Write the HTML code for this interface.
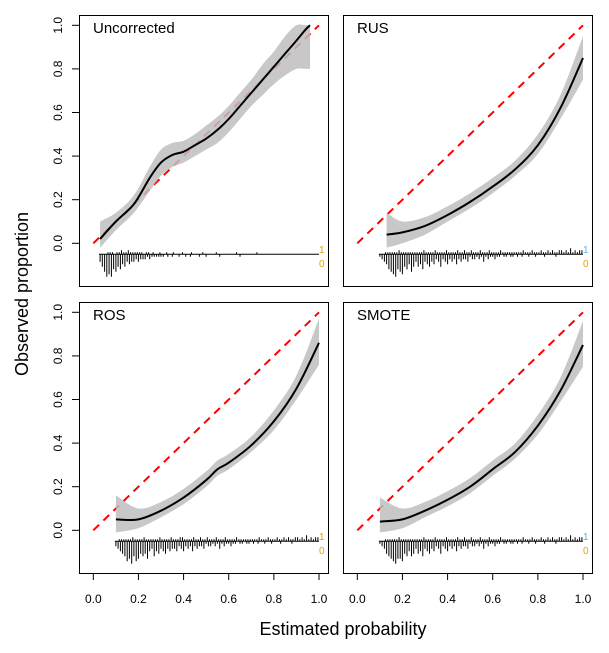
<!DOCTYPE html>
<html><head><meta charset="utf-8"><style>
body{margin:0;background:#fff}
svg{display:block;font-family:"Liberation Sans",Arial,sans-serif}
</style></head><body>
<svg id="c" width="609" height="653" viewBox="0 0 609 653"></svg>
<script>
const panelNames=["Uncorrected","RUS","ROS","SMOTE"];
const xTicks=[0,0.2,0.4,0.6,0.8,1.0];
const xTickLabels=["0.0","0.2","0.4","0.6","0.8","1.0"];
const yTicks=[0,0.2,0.4,0.6,0.8,1.0];
const yTickLabels=["0.0","0.2","0.4","0.6","0.8","1.0"];
// curves: x, fit, lower, upper
const curveX1=[0.03,0.1,0.18,0.25,0.3,0.35,0.4,0.45,0.5,0.55,0.6,0.65,0.7,0.75,0.8,0.85,0.9,0.94,0.96];
const fit1=[0.02,0.1,0.18,0.3,0.37,0.405,0.42,0.45,0.48,0.52,0.57,0.63,0.69,0.75,0.81,0.87,0.93,0.98,1.0];
const lo1=[-0.02,0.06,0.14,0.24,0.31,0.35,0.37,0.4,0.43,0.46,0.51,0.57,0.63,0.68,0.73,0.77,0.8,0.8,0.8];
const hi1=[0.1,0.14,0.22,0.35,0.43,0.46,0.47,0.5,0.54,0.58,0.63,0.69,0.75,0.82,0.88,0.95,1.0,1.0,1.0];
const curveX2=[0.13,0.2,0.3,0.4,0.5,0.6,0.7,0.8,0.9,1.0];
const fit2=[0.04,0.05,0.08,0.13,0.19,0.26,0.34,0.45,0.62,0.85];
const lo2=[-0.02,0.0,0.04,0.1,0.16,0.23,0.31,0.41,0.57,0.75];
const hi2=[0.14,0.1,0.12,0.17,0.23,0.3,0.38,0.5,0.68,0.95];
const curveX3=[0.1,0.2,0.3,0.4,0.5,0.55,0.6,0.7,0.8,0.9,1.0];
const fit3=[0.05,0.05,0.09,0.15,0.23,0.28,0.31,0.39,0.5,0.65,0.86];
const lo3=[-0.01,0.01,0.06,0.12,0.2,0.25,0.28,0.36,0.46,0.6,0.76];
const hi3=[0.16,0.1,0.13,0.19,0.27,0.32,0.35,0.43,0.55,0.71,0.97];
const curveX4=[0.1,0.2,0.3,0.4,0.5,0.6,0.7,0.8,0.9,1.0];
const fit4=[0.04,0.05,0.09,0.14,0.2,0.28,0.36,0.48,0.64,0.85];
const lo4=[-0.01,0.01,0.06,0.11,0.17,0.25,0.33,0.44,0.59,0.75];
const hi4=[0.15,0.1,0.13,0.18,0.24,0.32,0.4,0.53,0.7,0.96];
// rug counts, 0.01 bins
const rugStart=[0.03,0.1,0.1,0.1];
const rugNeg1=[3,5,7,9,8,9,6,7,5,6,4,5,3,4,3,3,2,3,2,2,2,1,2,1,1,1,1,1,1,0,1,0,1,0,0,1,0,0,1,0,1,0,0,0,1,0,0,1,0,0,0,0,0,1,0,0,0,0,0,0,0,0,1,0,0,0,0,0,0,0,0,0,0];
const rugPos1=[0,0,0,1,1,1,0,1,1,2,1,1,2,1,1,1,1,1,1,0,1,1,0,1,0,0,1,0,0,1,0,0,1,0,0,0,1,0,0,0,1,0,0,0,0,1,0,0,0,0,0,1,0,0,0,0,0,0,0,0,1,0,0,0,0,0,0,0,0,1,0,0];
const rugNeg2=[1,2,3,4,6,7,8,9,6,7,8,5,6,4,7,5,3,5,4,6,3,4,5,3,4,2,3,5,2,3,4,2,3,2,4,2,3,2,2,3,1,2,2,1,2,1,3,1,2,1,1,2,1,1,0,1,1,0,1,1,0,1,0,1,0,0,1,0,0,1,0,0,0,1,0,0,0,0,1,0,0,0,0,0,0,0,0,0,0,0,0];
const rugPos2=[0,0,1,1,1,1,1,1,2,1,1,1,1,1,1,1,1,1,1,2,1,1,1,1,2,1,1,1,1,2,1,1,1,1,2,1,1,2,1,1,2,1,1,1,2,1,1,1,2,1,1,1,1,2,1,1,1,1,1,1,1,1,1,2,1,1,1,2,1,1,1,2,1,1,2,1,2,1,1,2,2,1,2,1,3,1,2,1,2,2,3];
const rugNeg3=[2,3,4,5,6,8,7,9,6,8,7,5,6,5,7,4,3,6,4,5,3,4,5,3,4,3,3,4,2,3,4,2,3,2,4,2,3,2,2,3,1,2,2,1,2,1,3,1,2,1,1,2,1,1,0,1,1,0,1,1,0,1,0,1,0,0,1,0,0,1,0,0,0,1,0,0,0,0,1,0,0,0,0,0,0,0,0,0,0,0,0];
const rugPos3=[0,1,1,1,1,1,1,2,1,1,1,1,2,1,1,1,1,1,1,2,1,1,1,1,2,1,1,1,2,2,1,1,1,1,2,1,1,2,1,1,2,1,1,1,2,1,1,1,2,1,1,1,1,2,1,1,1,1,1,1,1,1,1,2,1,1,1,2,1,1,1,2,1,1,2,1,2,1,1,2,2,1,2,1,3,1,2,1,2,2,3];
const rugNeg4=[1,2,3,5,6,7,8,9,7,7,8,5,6,4,6,5,3,5,4,6,3,4,5,3,4,2,3,5,2,3,4,2,3,2,4,2,3,2,2,3,1,2,2,1,2,1,3,1,2,1,1,2,1,1,0,1,1,0,1,1,0,1,0,1,0,0,1,0,0,1,0,0,0,1,0,0,0,0,1,0,0,0,0,0,0,0,0,0,0,0,0];
const rugPos4=rugPos2.slice();

const curves=[[curveX1,fit1,lo1,hi1],[curveX2,fit2,lo2,hi2],[curveX3,fit3,lo3,hi3],[curveX4,fit4,lo4,hi4]];
const rugs=[[rugNeg1,rugPos1],[rugNeg2,rugPos2],[rugNeg3,rugPos3],[rugNeg4,rugPos4]];
const oneColors=["#e69f00","#56b4e9","#e69f00","#56b4e9"];

const NS="http://www.w3.org/2000/svg";
const svg=document.getElementById('c');
function mk(tag,attrs,parent){const e=document.createElementNS(NS,tag);for(const k in attrs)e.setAttribute(k,attrs[k]);(parent||svg).appendChild(e);return e;}
const OX=[0,264,0,264], OY=[0,0,287,287];
function sx(p,v){return OX[p]+93.3+v*225.7;}
function sy(p,v){return OY[p]+243.3-v*218;}
// Catmull-Rom smoothing through screen points
function smooth(pts,start){
  let d=start?'M'+pts[0][0].toFixed(1)+','+pts[0][1].toFixed(1):'L'+pts[0][0].toFixed(1)+','+pts[0][1].toFixed(1);
  for(let i=0;i<pts.length-1;i++){
    const p0=pts[Math.max(i-1,0)],p1=pts[i],p2=pts[i+1],p3=pts[Math.min(i+2,pts.length-1)];
    const c1=[p1[0]+(p2[0]-p0[0])/6,p1[1]+(p2[1]-p0[1])/6];
    const c2=[p2[0]-(p3[0]-p1[0])/6,p2[1]-(p3[1]-p1[1])/6];
    d+=`C${c1[0].toFixed(1)},${c1[1].toFixed(1)} ${c2[0].toFixed(1)},${c2[1].toFixed(1)} ${p2[0].toFixed(1)},${p2[1].toFixed(1)}`;
  }
  return d;
}

for(let p=0;p<4;p++){
  const g=mk('g',{});
  
  
  const cid='clip'+p;
  const cp=mk('clipPath',{id:cid},g);
  mk('rect',{x:OX[p]+79,y:OY[p]+15,width:249,height:271},cp);
  const ref=mk('line',{x1:sx(p,0),y1:sy(p,0),x2:sx(p,1),y2:sy(p,1),stroke:'#ff0000','stroke-width':2,'stroke-dasharray':'8,6','clip-path':`url(#${cid})`},g);
  
  
  const [cx,cf,cl,ch]=curves[p];
  const up=cx.map((x,i)=>[sx(p,x),sy(p,ch[i])]);
  const dn=cx.map((x,i)=>[sx(p,x),sy(p,cl[i])]).reverse();
  const d=smooth(up,true)+smooth(dn,false)+'Z';
  const band=mk('path',{d:d,fill:'#bebebe','fill-opacity':0.85,'clip-path':`url(#${cid})`},g);
  
  
  const fp=cx.map((x,i)=>[sx(p,x),sy(p,cf[i])]);
  const fl=mk('path',{d:smooth(fp,true),fill:'none',stroke:'#000','stroke-width':2,'stroke-linejoin':'round','clip-path':`url(#${cid})`},g);
  
  
  const base=sy(p,-0.05);
  const [rn,rp]=rugs[p];
  const bl=mk('line',{x1:sx(p,rugStart[p])-1,y1:base,x2:sx(p,1),y2:base,stroke:'#000','stroke-width':1},g);
  
  
  let rd='';
  for(let i=0;i<rn.length;i++){const x=sx(p,rugStart[p]+i*0.01);if(x>sx(p,1)+0.5)break;if(rn[i])rd+=`M${x.toFixed(1)},${base}V${(base+rn[i]*2.5).toFixed(1)}`;}
  for(let i=0;i<rp.length;i++){const x=sx(p,rugStart[p]+i*0.01+0.005);if(x>sx(p,1)+0.5)break;if(rp[i])rd+=`M${x.toFixed(1)},${base}V${(base-rp[i]*2).toFixed(1)}`;}
  const rug=mk('path',{d:rd,stroke:'#000','stroke-width':1,fill:'none'},g);
  
  
  const t1=mk('text',{x:OX[p]+319,y:base-1,'font-size':10,fill:oneColors[p]},g);t1.textContent='1';
  
  
  const t0=mk('text',{x:OX[p]+319,y:base+13,'font-size':10,fill:'#e69f00'},g);t0.textContent='0';
  
  
  const box=mk('rect',{x:OX[p]+79.5,y:OY[p]+15.5,width:249,height:271,fill:'none',stroke:'#000','stroke-width':1},g);
  
  
  const title=mk('text',{x:OX[p]+93,y:OY[p]+33,'font-size':15,fill:'#000'},g);
  title.textContent=panelNames[p];
  
  
  if(p%2===0){
    for(let i=0;i<yTicks.length;i++){
      const y=sy(p,yTicks[i]);
      mk('line',{x1:OX[p]+72,x2:OX[p]+79,y1:y,y2:y,stroke:'#000'},g);
      const tl=mk('text',{x:0,y:0,'font-size':12,'text-anchor':'middle',transform:`translate(${OX[p]+62},${y}) rotate(-90)`},g);
      tl.textContent=yTickLabels[i];
      
      
    }
  }
  if(p>=2){
    for(let i=0;i<xTicks.length;i++){
      const x=sx(p,xTicks[i]);
      mk('line',{x1:x,x2:x,y1:OY[p]+286,y2:OY[p]+293,stroke:'#000'},g);
      const tl=mk('text',{x:x,y:OY[p]+316,'font-size':12,'text-anchor':'middle'},g);
      tl.textContent=xTickLabels[i];
      
      
    }
  }
}
const xt=mk('text',{x:343,y:635,'font-size':18,'text-anchor':'middle'});xt.textContent='Estimated probability';


const yt=mk('text',{x:0,y:0,'font-size':18,'text-anchor':'middle',transform:'translate(28,294) rotate(-90)'});yt.textContent='Observed proportion';


</script>
</body></html>
